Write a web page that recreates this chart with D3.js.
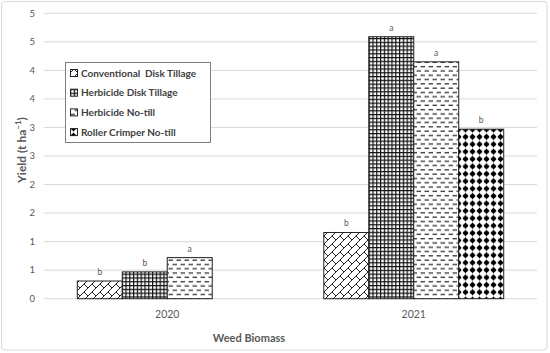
<!DOCTYPE html>
<html><head><meta charset="utf-8">
<script src="https://cdn.jsdelivr.net/npm/d3@7"></script>
<style>body{margin:0;background:#fff}svg{display:block}text{font-family:Lato,"Open Sans",sans-serif}</style>
</head><body><svg id="c" width="550" height="353"></svg>
<script>
const years = ["2020", "2021"];
const series = ["Conventional  Disk Tillage", "Herbicide Disk Tillage", "Herbicide No-till", "Roller Crimper No-till"];
const conventional = [0.31, 1.16];
const herbicideDisk = [0.47, 4.59];
const herbicideNoTill = [0.72, 4.15];
const rollerCrimper = [null, 2.97];
const letters = [["b", "b"], ["b", "a"], ["a", "a"], [null, "b"]];
const yTicks = [0, 0.5, 1, 1.5, 2, 2.5, 3, 3.5, 4, 4.5, 5];
const yTickLabels = ["0", "1", "1", "2", "2", "3", "3", "4", "4", "5", "5"];
const values = [conventional, herbicideDisk, herbicideNoTill, rollerCrimper];

const svg = d3.select("#c");
const defs = svg.append("defs");

// patterns
const p0 = defs.append("pattern").attr("id", "p0").attr("patternUnits", "userSpaceOnUse").attr("width", 8).attr("height", 8);
p0.append("rect").attr("width", 8).attr("height", 8).attr("fill", "#fff");
p0.append("path").attr("d", "M-1,9 L9,-1 M-1,1 L1,-1 M7,9 L9,7 M4,4 L8,8").attr("stroke", "#222").attr("stroke-width", 1).attr("fill", "none");

const p1 = defs.append("pattern").attr("id", "p1").attr("patternUnits", "userSpaceOnUse").attr("width", 3.8).attr("height", 3.8);
p1.append("rect").attr("width", 3.8).attr("height", 3.8).attr("fill", "#fff");
p1.append("rect").attr("x", 0).attr("y", 0).attr("width", 3.8).attr("height", 1.2).attr("fill", "#111");
p1.append("rect").attr("x", 0).attr("y", 0).attr("width", 1.2).attr("height", 3.8).attr("fill", "#111");

const p2 = defs.append("pattern").attr("id", "p2").attr("patternUnits", "userSpaceOnUse").attr("width", 8).attr("height", 8.6);
p2.append("rect").attr("width", 8).attr("height", 8.6).attr("fill", "#fff");
p2.append("rect").attr("x", 0.5).attr("y", 1.5).attr("width", 4.5).attr("height", 1.3).attr("fill", "#333");
p2.append("rect").attr("x", 4.5).attr("y", 5.8).attr("width", 4.5).attr("height", 1.3).attr("fill", "#333");
p2.append("rect").attr("x", -3.5).attr("y", 5.8).attr("width", 4.5).attr("height", 1.3).attr("fill", "#333");

const p3 = defs.append("pattern").attr("id", "p3").attr("patternUnits", "userSpaceOnUse").attr("width", 7).attr("height", 7.4);
p3.append("rect").attr("width", 7).attr("height", 7.4).attr("fill", "#fff");
p3.append("path").attr("d", "M3.5,0.2 L4.6,2 L6.6,3.7 L4.6,5.4 L3.5,7.2 L2.4,5.4 L0.4,3.7 L2.4,2 Z").attr("fill", "#000");
p3.append("circle").attr("cx", 3.5).attr("cy", 3.7).attr("r", 2.3).attr("fill", "#000");

const fills = ["url(#p0)", "url(#p1)", "url(#p2)", "url(#p3)"];

// outer border
svg.append("rect").attr("x", 1.5).attr("y", 1.5).attr("width", 545.5).attr("height", 348.5)
  .attr("rx", 3).attr("fill", "#fff").attr("stroke", "#d9d9d9");

const x0 = d3.scaleBand().domain(years).range([44, 537]).padding(0);
const x1 = d3.scaleBand().domain(series).range([0, x0.bandwidth()]).paddingInner(0).paddingOuter(0.74);
const y = d3.scaleLinear().domain([0, 5]).range([298.7, 13.3]);

// gridlines
svg.append("g").selectAll("line").data(yTicks).join("line")
  .attr("x1", 44).attr("x2", 537)
  .attr("y1", d => y(d)).attr("y2", d => y(d))
  .attr("stroke", "#d9d9d9").attr("stroke-width", 1);

// y tick labels
svg.append("g").selectAll("text").data(yTicks).join("text")
  .attr("x", 35).attr("y", d => y(d)).attr("dy", "0.35em")
  .attr("text-anchor", "end").attr("font-size", 9.5).attr("fill", "#595959")
  .text((d, i) => yTickLabels[i]);

// bars
const data = [];
series.forEach((s, si) => years.forEach((yr, yi) => {
  data.push({ s, si, yr, v: values[si][yi], l: letters[si][yi] });
}));
const bars = data.filter(d => d.v != null);
svg.append("g").selectAll("rect").data(bars).join("rect")
  .attr("x", d => x0(d.yr) + x1(d.s))
  .attr("width", x1.bandwidth())
  .attr("y", d => y(d.v))
  .attr("height", d => y(0) - y(d.v))
  .attr("fill", d => fills[d.si])
  .attr("stroke", "#222").attr("stroke-width", 1);

svg.append("g").selectAll("text").data(bars.filter(d => d.l)).join("text")
  .attr("x", d => x0(d.yr) + x1(d.s) + x1.bandwidth() / 2)
  .attr("y", d => y(d.v) - 6)
  .attr("text-anchor", "middle").attr("font-size", 8.5).attr("fill", "#595959")
  .text(d => d.l);

// x axis labels
svg.append("g").selectAll("text").data(years).join("text")
  .attr("x", d => x0(d) + x0.bandwidth() / 2).attr("y", 318)
  .attr("text-anchor", "middle").attr("font-size", 10.5).attr("fill", "#595959")
  .text(d => d);

svg.append("text").attr("x", 249).attr("y", 342).attr("text-anchor", "middle")
  .attr("font-size", 11).attr("font-weight", "bold").attr("fill", "#595959").text("Weed Biomass");

svg.append("text").attr("transform", "translate(26,150) rotate(-90)").attr("text-anchor", "middle")
  .attr("font-size", 12).attr("font-weight", "bold").attr("fill", "#595959")
  .html('Yield (t ha<tspan baseline-shift="super" font-size="8">−1</tspan>)');

// legend
const lg = svg.append("g");
lg.append("rect").attr("x", 65.5).attr("y", 62.5).attr("width", 145).attr("height", 80)
  .attr("fill", "#fff").attr("stroke", "#7f7f7f");
const li = lg.selectAll("g").data(series).join("g")
  .attr("transform", (d, i) => `translate(70,${73 + i * 19.7})`);
li.append("rect").attr("x", 0.5).attr("y", -3.5).attr("width", 7).attr("height", 7)
  .attr("fill", (d, i) => fills[i]).attr("stroke", "#222").attr("stroke-width", 1);
li.append("text").attr("x", 11).attr("y", 0).attr("dy", "0.35em")
  .attr("font-size", 10).attr("font-weight", "bold").attr("fill", "#404040")
  .style("white-space", "pre").text(d => d);
</script></body></html>
